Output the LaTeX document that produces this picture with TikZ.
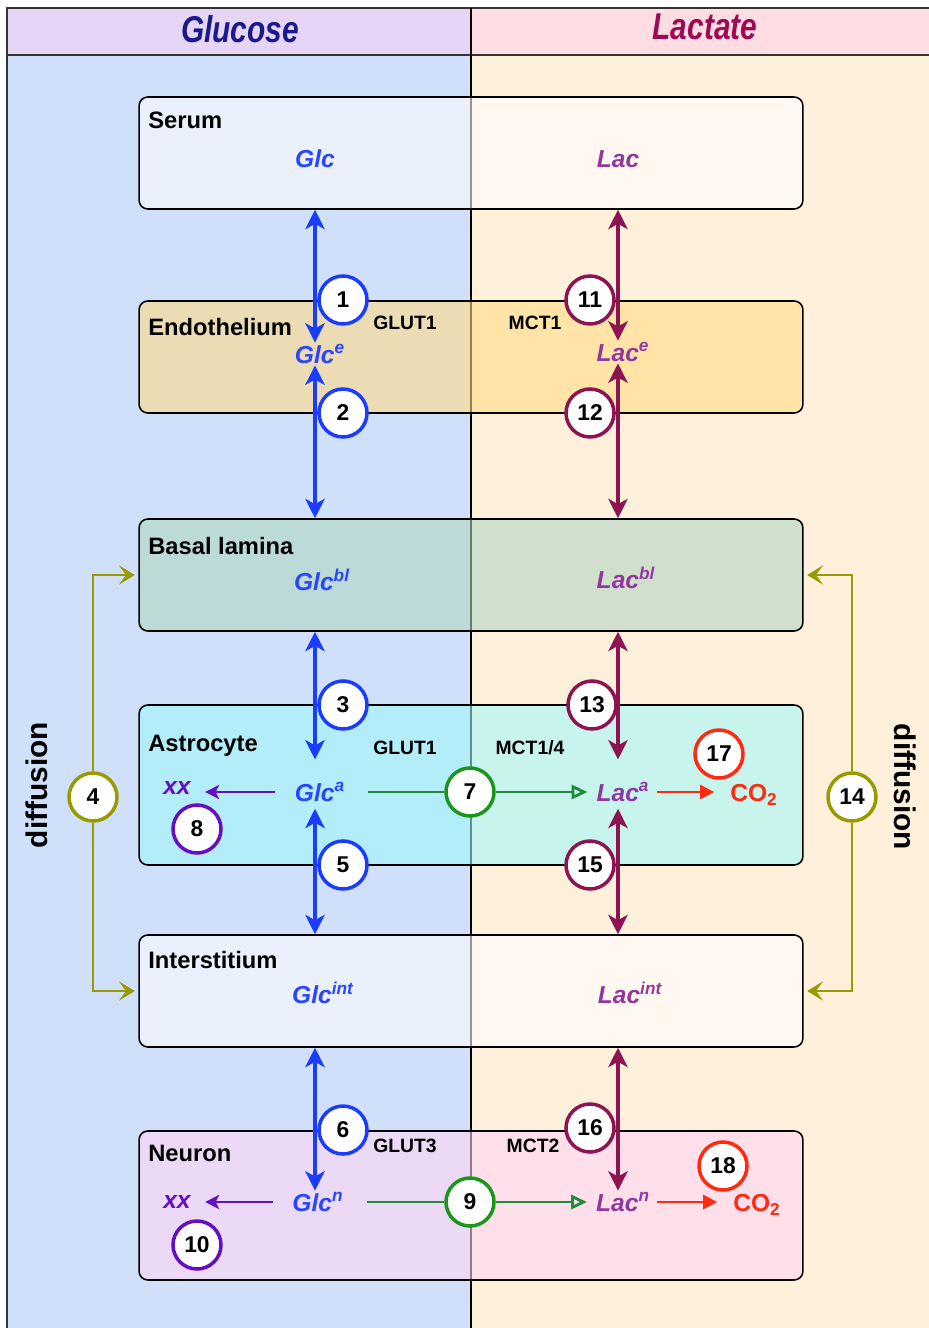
\documentclass[tikz,border=0pt]{standalone}
\usepackage{fontspec}
\setmainfont{Liberation Sans}
\usetikzlibrary{arrows.meta,positioning,calc}
\definecolor{colBlue}{HTML}{D0E0FA}
\definecolor{colPeach}{HTML}{FFF0DC}
\definecolor{headLav}{HTML}{E6D5F5}
\definecolor{headPink}{HTML}{FFDDE2}
\definecolor{glcBlue}{HTML}{1A3CFF}
\definecolor{glcText}{HTML}{2A45FF}
\definecolor{lacRed}{HTML}{8C1450}
\definecolor{lacText}{HTML}{9038A0}
\definecolor{titleNavy}{HTML}{1A1A8C}
\definecolor{titleWine}{HTML}{9B0A52}
\definecolor{xxViolet}{HTML}{6410C0}
\definecolor{convGreen}{HTML}{1E8C3C}
\definecolor{ringGreen}{HTML}{1A961A}
\definecolor{oxRed}{HTML}{FF2A10}
\definecolor{diffOlive}{HTML}{999900}
\definecolor{fillEndo}{HTML}{FFDA82}
\definecolor{fillBasal}{HTML}{AFD6C1}
\definecolor{fillAstro}{HTML}{9FF8FA}
\definecolor{fillNeuron}{HTML}{FFD4F3}

\begin{document}
\begin{tikzpicture}[x=0.02cm, y=-0.02cm,
  compartment/.style={draw, line width=0.9pt, rounded corners=5pt, minimum width=13.28cm, minimum height=2.24cm, fill opacity=0.58},
  region/.style={anchor=west, inner sep=0pt, font=\fontsize{13.5}{16}\selectfont\bfseries},
  carrier/.style={inner sep=0pt, font=\fontsize{11}{13}\selectfont\bfseries},
  species/.style={inner sep=1pt, font=\fontsize{14}{17}\selectfont\bfseries\itshape},
  glcname/.style={species, text=glcText},
  lacname/.style={species, text=lacText},
  stepnum/.style={circle, draw=#1, fill=white, line width=2pt, minimum size=0.96cm, inner sep=0pt, font=\fontsize{13}{15}\selectfont\bfseries},
  glcflow/.style={<->, >={Stealth[length=11pt,width=11pt,inset=3pt]}, color=glcBlue, line width=2.6pt},
  lacflow/.style={glcflow, color=lacRed},
  xxflow/.style={-{Stealth[length=8pt,width=8pt,inset=2pt]}, color=xxViolet, line width=1.6pt, shorten <=10pt, shorten >=7pt},
  convline/.style={color=convGreen, line width=1.6pt},
  convflow/.style={convline, -{Triangle[open,length=9pt,width=8pt]}},
  oxflow/.style={-{Triangle[length=8pt,width=8pt]}, color=oxRed, line width=1.6pt, shorten <=3pt, shorten >=8pt},
  diffflow/.style={-{Stealth[length=9pt,width=11pt,inset=4pt]}, color=diffOlive, line width=1.6pt, shorten >=2pt},
  sidelabel/.style={font=\fontsize{17}{20}\selectfont\bfseries}
]
\useasboundingbox (0,0) rectangle (929,1328);
\clip (0,0) rectangle (929,1328);

% columns and header
\fill[colBlue] (7,55) rectangle (471,1345);
\fill[colPeach] (471,55) rectangle (945,1345);
\fill[headLav] (7,8) rectangle (471,55);
\fill[headPink] (471,8) rectangle (945,55);
\draw[line width=1.2pt, black!80] (7,8) rectangle (945,1345);
\draw[line width=1pt, black!80] (7,55) -- (945,55);
\draw[line width=0.8pt] (471,8) -- (471,1345);

\node[font=\fontsize{17}{20}\selectfont\bfseries\itshape, text=titleNavy] (glucose) at (240,29) {\scalebox{1}[1.25]{Glucose}};
\node[font=\fontsize{17}{20}\selectfont\bfseries\itshape, text=titleWine] (lactate) at (705,27) {\scalebox{1}[1.25]{Lactate}};

% compartments
\node[compartment, fill=white] (serum) at (471,153) {};
\node[compartment, fill=fillEndo] (endo) at (471,357) {};
\node[compartment, fill=fillBasal] (basal) at (471,575) {};
\node[compartment, fill=fillAstro, minimum height=3.2cm] (astro) at (471,785) {};
\node[compartment, fill=white] (inter) at (471,991) {};
\node[compartment, fill=fillNeuron, minimum height=2.98cm] (neuron) at (471,1205.5) {};

\node[region] (serumlbl) at (148,120) {Serum};
\node[region] (endolbl) at (148,327) {Endothelium};
\node[region] (basallbl) at (148,546) {Basal lamina};
\node[region] (astrolbl) at (148,746) {Astrocyte};
\node[region] (interlbl) at (148,960) {Interstitium};
\node[region] (neuronlbl) at (148,1153) {Neuron};

\node[carrier] (glut1e) at (405,323) {GLUT1};
\node[carrier] (mct1e) at (535,323) {MCT1};
\node[carrier] (glut1a) at (405,748) {GLUT1};
\node[carrier] (mct14a) at (530,748) {MCT1/4};
\node[carrier] (glut3n) at (405,1146) {GLUT3};
\node[carrier] (mct2n) at (533,1146) {MCT2};

% metabolites
\node[glcname] (glc) at (315,159) {Glc};
\node[lacname] (lac) at (618,159) {Lac};
\node[glcname] (glce) at (320,354) {Glc\textsuperscript{e}};
\node[lacname] (lace) at (623,352) {Lac\textsuperscript{e}};
\node[glcname] (glcbl) at (322,580) {Glc\textsuperscript{bl}};
\node[lacname] (lacbl) at (626,578) {Lac\textsuperscript{bl}};
\node[glcname] (glca) at (320,792) {Glc\textsuperscript{a}};
\node[lacname] (laca) at (623,792) {Lac\textsuperscript{a}};
\node[glcname] (glcint) at (323,993) {Glc\textsuperscript{int}};
\node[lacname] (lacint) at (630,993) {Lac\textsuperscript{int}};
\node[glcname] (glcn) at (318,1202) {Glc\textsuperscript{n}};
\node[lacname] (lacn) at (623,1202) {Lac\textsuperscript{n}};

\node[species, text=xxViolet] (xxa) at (177,788) {xx};
\node[species, text=xxViolet] (xxn) at (177,1202) {xx};
\node[species, font=\fontsize{14}{17}\selectfont\bfseries, text=oxRed] (co2a) at (754,795) {CO\textsubscript{2}};
\node[species, font=\fontsize{14}{17}\selectfont\bfseries, text=oxRed] (co2n) at (757,1205) {CO\textsubscript{2}};

\node[sidelabel, rotate=90] (diffl) at (37,785) {diffusion};
\node[sidelabel, rotate=-90] (diffr) at (905,787) {diffusion};

% transport
\draw[glcflow] (serum.south -| glc) -- (glce.north -| glc);
\draw[glcflow] (glce.south -| glc) -- (basal.north -| glc);
\draw[glcflow, shorten >=12pt] (basal.south -| glc) -- (glca.north -| glc);
\draw[glcflow, shorten <=3pt] (glca.south -| glc) -- (inter.north -| glc);
\draw[glcflow] (inter.south -| glc) -- (glcn.north -| glc);

\draw[lacflow] (serum.south -| lac) -- (lace.north -| lac);
\draw[lacflow] (lace.south -| lac) -- (basal.north -| lac);
\draw[lacflow, shorten >=12pt] (basal.south -| lac) -- (laca.north -| lac);
\draw[lacflow, shorten <=3pt] (laca.south -| lac) -- (inter.north -| lac);
\draw[lacflow] (inter.south -| lac) -- (lacn.north -| lac);

\node[stepnum=glcBlue] (n1) at (343,300) {1};
\node[stepnum=glcBlue] (n2) at (343,413) {2};
\node[stepnum=glcBlue] (n3) at (343,705) {3};
\node[stepnum=glcBlue] (n5) at (343,865) {5};
\node[stepnum=glcBlue] (n6) at (343,1130) {6};
\node[stepnum=lacRed] (n11) at (590,300) {11};
\node[stepnum=lacRed] (n12) at (590,413) {12};
\node[stepnum=lacRed] (n13) at (592,705) {13};
\node[stepnum=lacRed] (n15) at (590,865) {15};
\node[stepnum=lacRed] (n16) at (590,1128) {16};

% diffusion
\node[stepnum=diffOlive] (n4) at (93,797) {4};
\node[stepnum=diffOlive] (n14) at (852,797) {14};
\draw[diffflow] (n4) |- (basal.west);
\draw[diffflow] (n4) |- (inter.west);
\draw[diffflow] (n14) |- (basal.east);
\draw[diffflow] (n14) |- (inter.east);

% metabolism
\node[stepnum=ringGreen] (n7) at (470,792) {7};
\node[stepnum=ringGreen] (n9) at (470,1202) {9};
\draw[convline, shorten <=12pt] (glca.east) -- (n7.west);
\draw[convflow, shorten >=4pt] (n7.east) -- (laca.west);
\draw[convline, shorten <=12pt] (glcn.east) -- (n9.west);
\draw[convflow, shorten >=4pt] (n9.east) -- (lacn.west);

\node[stepnum=xxViolet] (n8) at (197,829) {8};
\node[stepnum=xxViolet] (n10) at (197,1245) {10};
\draw[xxflow] (glca.west) -- (xxa.east |- glca.west);
\draw[xxflow] (glcn.west) -- (xxn.east |- glcn.west);

\node[stepnum=oxRed] (n17) at (719,754) {17};
\node[stepnum=oxRed] (n18) at (723,1166) {18};
\draw[oxflow] (laca.east) -- (co2a.west |- laca.east);
\draw[oxflow] (lacn.east) -- (co2n.west |- lacn.east);

\end{tikzpicture}
\end{document}
